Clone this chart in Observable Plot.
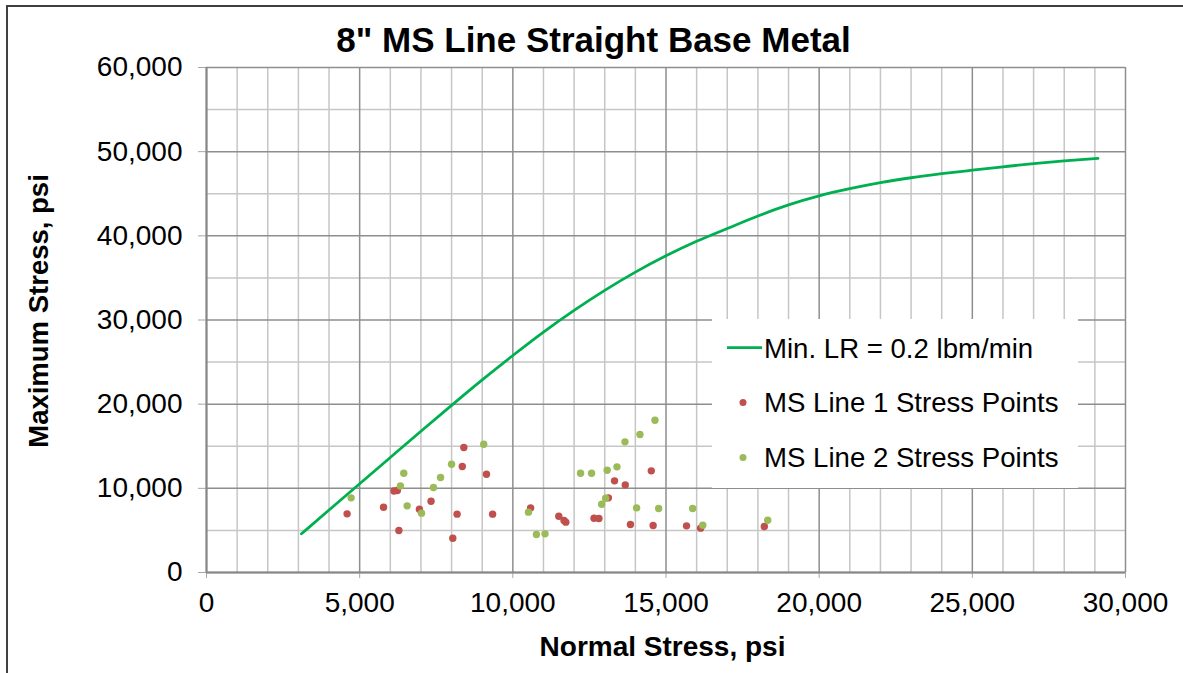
<!DOCTYPE html>
<html><head><meta charset="utf-8">
<script src="https://cdn.jsdelivr.net/npm/d3@7"></script>
<script src="https://cdn.jsdelivr.net/npm/@observablehq/plot@0.6"></script>
<style>
html,body{margin:0;padding:0;background:#fff;}
body{width:1183px;height:673px;overflow:hidden;position:relative;font-family:"Liberation Sans",Arial,sans-serif;}
#chart{position:absolute;left:0;top:0;}
#frame{position:absolute;left:6px;top:5px;width:1300px;height:800px;border-top:2px solid #404040;border-left:2px solid #404040;pointer-events:none;}
#legend{position:absolute;left:712px;top:319px;width:366px;height:169px;background:#fff;}
</style></head><body>
<div id="chart"></div>
<div id="legend"></div>
<div id="frame"></div>
<script>
// ---- Data ----
const chartTitle = "8\" MS Line Straight Base Metal";
const xTitle = "Normal Stress, psi";
const yTitle = "Maximum Stress, psi";
const seriesNames = ["Min. LR = 0.2 lbm/min", "MS Line 1 Stress Points", "MS Line 2 Stress Points"];

const xTicks = [0, 5000, 10000, 15000, 20000, 25000, 30000];
const yTicks = [0, 10000, 20000, 30000, 40000, 50000, 60000];
const xMinorGrid = [1000,2000,3000,4000,6000,7000,8000,9000,11000,12000,13000,14000,16000,17000,18000,19000,21000,22000,23000,24000,26000,27000,28000,29000];
const yMinorGrid = [5000, 15000, 25000, 35000, 45000, 55000];

const curveX = [3100, 4000, 5000, 6000, 7000, 8000, 9000, 10000, 11000, 12000, 13000, 14000, 15000, 16000, 17000, 18000, 19000, 20000, 21000, 22000, 23000, 24000, 25000, 26000, 27000, 28000, 29100];
const curveY = [4600, 7420, 10550, 13670, 16780, 19860, 22880, 25780, 28560, 31140, 33520, 35690, 37630, 39350, 40870, 42360, 43680, 44750, 45600, 46320, 46900, 47380, 47800, 48200, 48580, 48900, 49200];

const line1X = [4590, 5780, 6120, 6230, 6280, 6950, 7330, 8040, 8180, 8350, 8400, 9140, 9340, 10580, 11500, 11670, 11730, 12650, 12810, 13120, 13320, 13670, 13840, 14520, 14580, 15670, 16130, 18210];
const line1Y = [6970, 7760, 9680, 9740, 4990, 7520, 8470, 4070, 6930, 12590, 14850, 11680, 6930, 7680, 6690, 6180, 5980, 6450, 6410, 8870, 10890, 10410, 5700, 12080, 5580, 5540, 5270, 5460];

const line2X = [4720, 6330, 6440, 6550, 7020, 7410, 7640, 8000, 9050, 10510, 10770, 11050, 12210, 12570, 12900, 13030, 13080, 13400, 13660, 14040, 14150, 14640, 14760, 15870, 16200, 18320];
const line2Y = [8870, 10290, 11800, 7920, 7050, 10100, 11280, 12870, 15240, 7170, 4510, 4590, 11800, 11800, 8110, 8830, 12150, 12550, 15520, 7680, 16390, 18090, 7600, 7600, 5620, 6210];

const colors = ["#00B050", "#C0504D", "#9BBB59"];

// ---- Build tables ----
const curve = curveX.map((x, i) => ({x, y: curveY[i]}));
const pts1 = line1X.map((x, i) => ({x, y: line1Y[i]}));
const pts2 = line2X.map((x, i) => ({x, y: line2Y[i]}));

const FONT = '"Liberation Sans", Arial, sans-serif';
const fmt = d3.format(",");
const minorC = "#c6c6c6", majorC = "#8e8e8e";

const plot = Plot.plot({
  width: 1183, height: 673,
  marginLeft: 206, marginRight: 58, marginTop: 67, marginBottom: 101,
  style: {fontFamily: FONT, fontSize: "28px", color: "#000", background: "#fff", overflow: "visible"},
  x: {domain: [0, 30000]},
  y: {domain: [0, 60000]},
  marks: [
    Plot.ruleX(xMinorGrid, {stroke: minorC, strokeWidth: 1.5}),
    Plot.ruleY(yMinorGrid, {stroke: minorC, strokeWidth: 1.5}),
    Plot.ruleX(xTicks, {stroke: majorC, strokeWidth: 1.5}),
    Plot.ruleY(yTicks, {stroke: majorC, strokeWidth: 1.5}),
    Plot.axisX({ticks: xTicks, tickFormat: fmt, tickSize: 6, tickPadding: 14, label: null, stroke: "#a6a6a6", fontSize: 28, fill: "#000"}),
    Plot.axisY({ticks: yTicks, tickFormat: fmt, tickSize: 8, tickPadding: 16, label: null, stroke: "#a6a6a6", fontSize: 28, fill: "#000"}),
    Plot.ruleX([0], {stroke: "#868686", strokeWidth: 2}),
    Plot.ruleY([0], {stroke: "#868686", strokeWidth: 2}),
    Plot.line(curve, {x: "x", y: "y", stroke: colors[0], strokeWidth: 2.8, curve: "monotone-x"}),
    Plot.dot(pts1, {x: "x", y: "y", r: 3.7, fill: colors[1]}),
    Plot.dot(pts2, {x: "x", y: "y", r: 3.7, fill: colors[2]}),
    Plot.text([chartTitle], {text: d => d, frameAnchor: "top", textAnchor: "middle", lineAnchor: "middle", dx: -72.5, dy: -27, fontSize: 35, fontWeight: "bold", fill: "#000"}),
    Plot.text([xTitle], {text: d => d, frameAnchor: "bottom", textAnchor: "middle", lineAnchor: "middle", dx: -3.5, dy: 74.5, fontSize: 28, fontWeight: "bold", fill: "#000"}),
    Plot.text([yTitle], {text: d => d, frameAnchor: "left", textAnchor: "middle", lineAnchor: "middle", dx: -167, dy: -9, rotate: -90, fontSize: 27.5, fontWeight: "bold", fill: "#000"})
  ]
});
document.getElementById("chart").appendChild(plot);

// ---- Legend ----
const leg = d3.select("#legend").append("svg").attr("width", 366).attr("height", 169)
  .style("font-family", FONT).style("font-size", "27.6px");
const rows = [28.7, 83.5, 138.5];
leg.append("line").attr("x1", 15).attr("x2", 50).attr("y1", rows[0]).attr("y2", rows[0])
  .attr("stroke", colors[0]).attr("stroke-width", 2.8);
leg.append("circle").attr("cx", 31).attr("cy", rows[1]).attr("r", 3.5).attr("fill", colors[1]);
leg.append("circle").attr("cx", 31).attr("cy", rows[2]).attr("r", 3.5).attr("fill", colors[2]);
seriesNames.forEach((s, i) => {
  leg.append("text").attr("x", 52).attr("y", rows[i] + 9.9).attr("fill", "#000").text(s);
});
</script></body></html>
